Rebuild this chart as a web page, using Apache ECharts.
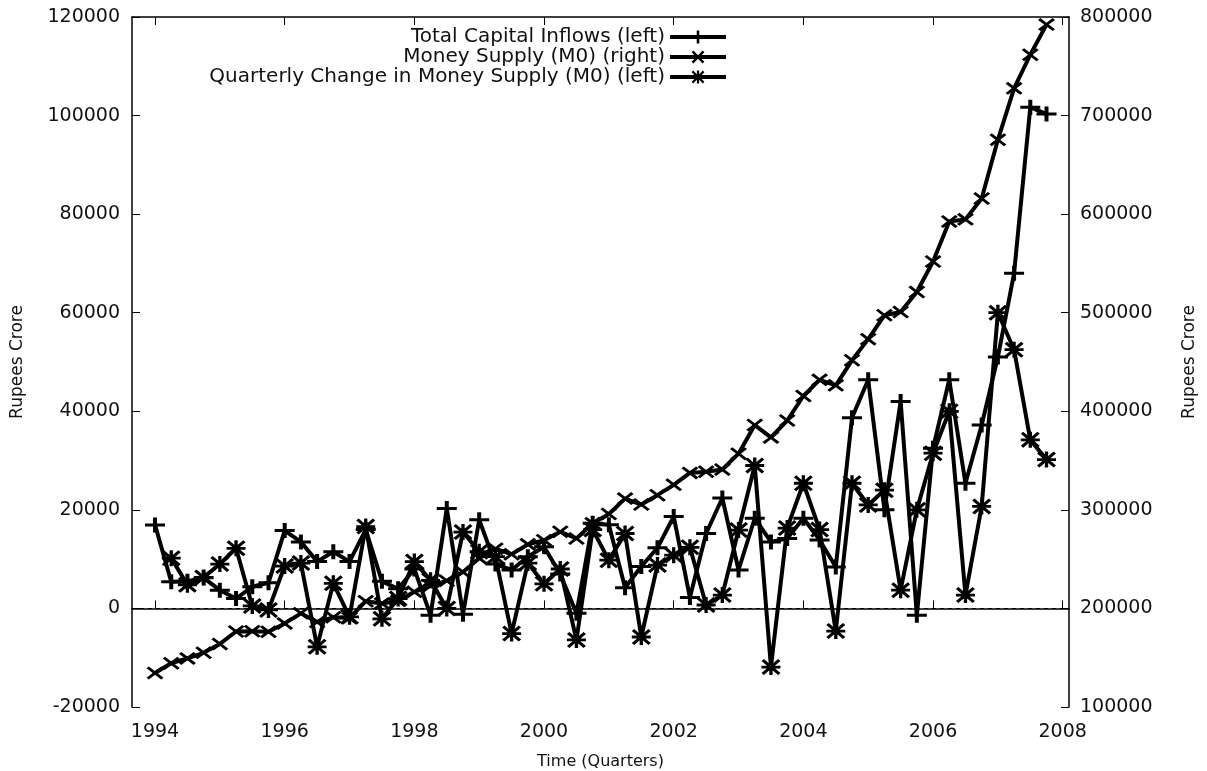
<!DOCTYPE html>
<html>
<head>
<meta charset="utf-8">
<script src="https://cdn.jsdelivr.net/npm/echarts@6.0.0/dist/echarts.min.js"></script>
<style>html,body{margin:0;padding:0;background:#fff;}#c{width:1207px;height:771px;}</style>
</head>
<body>
<div id="c"></div>
<script>
// Quarters 1994.00 .. 2007.75
const quarters = [
  1994.00,1994.25,1994.50,1994.75,1995.00,1995.25,1995.50,1995.75,
  1996.00,1996.25,1996.50,1996.75,1997.00,1997.25,1997.50,1997.75,
  1998.00,1998.25,1998.50,1998.75,1999.00,1999.25,1999.50,1999.75,
  2000.00,2000.25,2000.50,2000.75,2001.00,2001.25,2001.50,2001.75,
  2002.00,2002.25,2002.50,2002.75,2003.00,2003.25,2003.50,2003.75,
  2004.00,2004.25,2004.50,2004.75,2005.00,2005.25,2005.50,2005.75,
  2006.00,2006.25,2006.50,2006.75,2007.00,2007.25,2007.50,2007.75
];
// Total Capital Inflows (left axis, Rupees Crore)
const capitalInflows = [
  16950,5400,5500,6200,3700,2000,4400,5200,
  15800,13500,9500,11500,9500,16000,5500,4000,
  8000,-1400,20300,-1200,18000,9000,7800,10500,
  12500,7000,-1000,17300,17000,4200,8500,12300,
  18650,2200,15200,22400,7800,18300,13500,14200,
  18300,13900,8400,38700,46400,20000,42000,-1400,
  32500,46400,25400,37200,51000,68000,101700,100300
];
// Money Supply M0 (right axis, Rupees Crore)
const moneySupply = [
  134500,144400,149300,155000,164000,176600,176800,176400,
  184800,195000,186300,191000,190200,207300,205100,207700,
  216800,223000,228000,237000,251000,260500,255000,265000,
  269200,277800,271000,286300,295800,311400,305400,314900,
  325400,337500,338700,340900,357000,386000,373500,390600,
  415500,431900,426300,451700,473200,497400,500700,521000,
  551900,592500,594700,615800,675400,727600,761700,792300
];
// Quarterly Change in Money Supply M0 (left axis)
const m0Change = [
  null,10200,4800,6300,9000,12200,500,-300,
  8600,9200,-7800,5100,-1700,16600,-2100,2000,
  9500,5700,0,15500,11500,10500,-5100,9200,
  5000,8000,-6400,16000,9800,15200,-5800,8800,
  10800,12400,700,2700,15900,29000,-11900,16300,
  25400,16000,-4600,25400,21000,24000,3700,20000,
  31500,40000,2700,20700,60000,52500,34200,30200
];
const yearTicks = [1994,1996,1998,2000,2002,2004,2006,2008];
const seriesNames = [
  'Total Capital Inflows (left)',
  'Money Supply (M0) (right)',
  'Quarterly Change in Money Supply (M0) (left)'
];

const FONT = 'DejaVu Sans';
const plusPath = 'path://M6.4,0H9.6V6.4H16V9.6H9.6V16H6.4V9.6H0V6.4H6.4Z';
const crossPath = 'path://M0,2.2L2.2,0L8,5.8L13.8,0L16,2.2L10.2,8L16,13.8L13.8,16L8,10.2L2.2,16L0,13.8L5.8,8Z';
const starPath = 'path://M6.6,0H9.4V6.6H16V9.4H9.4V16H6.6V9.4H0V6.6H6.6Z' +
  'M0,2L2,0L8,6L14,0L16,2L10,8L16,14L14,16L8,10L2,16L0,14L6,8Z';

const pair = (xs, ys) => xs.map((x, i) => [x, ys[i]]);

const chart = echarts.init(document.getElementById('c'), null, {renderer: 'canvas'});
const axisLineStyle = {color: '#000', width: 1.5};
const tickLabelStyle = {color: '#111', fontFamily: FONT, fontSize: 19};
const nameStyleV = {color: '#111', fontFamily: FONT, fontSize: 17};
const nameStyleH = {color: '#111', fontFamily: FONT, fontSize: 16};
const plain = v => String(v);

chart.setOption({
  animation: false,
  backgroundColor: '#fff',
  textStyle: {fontFamily: FONT},
  grid: {left: 132, right: 138, top: 17, bottom: 64, containLabel: false, outerBoundsMode: 'none'},
  legend: {
    data: seriesNames,
    orient: 'vertical',
    align: 'right',
    right: 474,
    top: 22,
    itemWidth: 56,
    itemHeight: 16,
    itemGap: 0,
    lineStyle: {width: 4, color: '#000'},
    textStyle: {color: '#111', fontFamily: FONT, fontSize: 20, lineHeight: 20},
    selectedMode: false
  },
  xAxis: [{
    type: 'value',
    min: 1993.645,
    max: 2008.097,
    position: 'bottom',
    name: 'Time (Quarters)',
    nameLocation: 'middle',
    nameGap: 47,
    nameTextStyle: nameStyleH,
    axisLine: {show: true, lineStyle: axisLineStyle},
    axisTick: {show: true, inside: true, length: 8, customValues: yearTicks, lineStyle: {color: '#000', width: 1}},
    axisLabel: {show: true, customValues: yearTicks, margin: 16, ...tickLabelStyle, formatter: v => String(Math.round(v))},
    splitLine: {show: false}
  }, {
    type: 'value',
    min: 1993.645,
    max: 2008.097,
    position: 'top',
    axisLine: {show: true, lineStyle: axisLineStyle},
    axisTick: {show: true, inside: true, length: 8, customValues: yearTicks, lineStyle: {color: '#000', width: 1}},
    axisLabel: {show: false},
    splitLine: {show: false}
  }],
  yAxis: [{
    type: 'value',
    min: -20000,
    max: 120000,
    interval: 20000,
    position: 'left',
    name: 'Rupees Crore',
    nameLocation: 'middle',
    nameRotate: 90,
    nameGap: 106,
    nameTextStyle: nameStyleV,
    axisLine: {show: true, lineStyle: axisLineStyle},
    axisTick: {show: true, inside: true, length: 8, lineStyle: {color: '#000', width: 1}},
    axisLabel: {margin: 12, ...tickLabelStyle, formatter: plain},
    splitLine: {show: false}
  }, {
    type: 'value',
    min: 100000,
    max: 800000,
    interval: 100000,
    position: 'right',
    name: 'Rupees Crore',
    nameLocation: 'middle',
    nameRotate: 90,
    nameGap: 112,
    nameTextStyle: nameStyleV,
    axisLine: {show: true, lineStyle: axisLineStyle},
    axisTick: {show: true, inside: true, length: 8, lineStyle: {color: '#000', width: 1}},
    axisLabel: {margin: 11, ...tickLabelStyle, formatter: plain},
    splitLine: {show: false}
  }],
  series: [{
    name: 'zero',
    type: 'line',
    xAxisIndex: 0,
    yAxisIndex: 0,
    data: [],
    z: 1,
    silent: true,
    markLine: {
      silent: true,
      symbol: ['none', 'none'],
      label: {show: false},
      lineStyle: {type: [4, 4], width: 1, color: '#000'},
      data: [{yAxis: 0}]
    }
  }, {
    name: seriesNames[0],
    type: 'line',
    xAxisIndex: 0,
    yAxisIndex: 0,
    z: 3,
    data: pair(quarters, capitalInflows),
    symbol: plusPath,
    symbolSize: [20, 15],
    symbolKeepAspect: false,
    showAllSymbol: true,
    lineStyle: {color: '#000', width: 4},
    itemStyle: {color: '#000'}
  }, {
    name: seriesNames[1],
    type: 'line',
    xAxisIndex: 0,
    yAxisIndex: 1,
    z: 3,
    data: pair(quarters, moneySupply),
    symbol: crossPath,
    symbolSize: [17, 13],
    symbolKeepAspect: false,
    showAllSymbol: true,
    lineStyle: {color: '#000', width: 4},
    itemStyle: {color: '#000'}
  }, {
    name: seriesNames[2],
    type: 'line',
    xAxisIndex: 0,
    yAxisIndex: 0,
    z: 3,
    data: pair(quarters, m0Change),
    symbol: starPath,
    symbolSize: [19, 16],
    symbolKeepAspect: false,
    showAllSymbol: true,
    connectNulls: false,
    lineStyle: {color: '#000', width: 4},
    itemStyle: {color: '#000'}
  }]
});
</script>
</body>
</html>
